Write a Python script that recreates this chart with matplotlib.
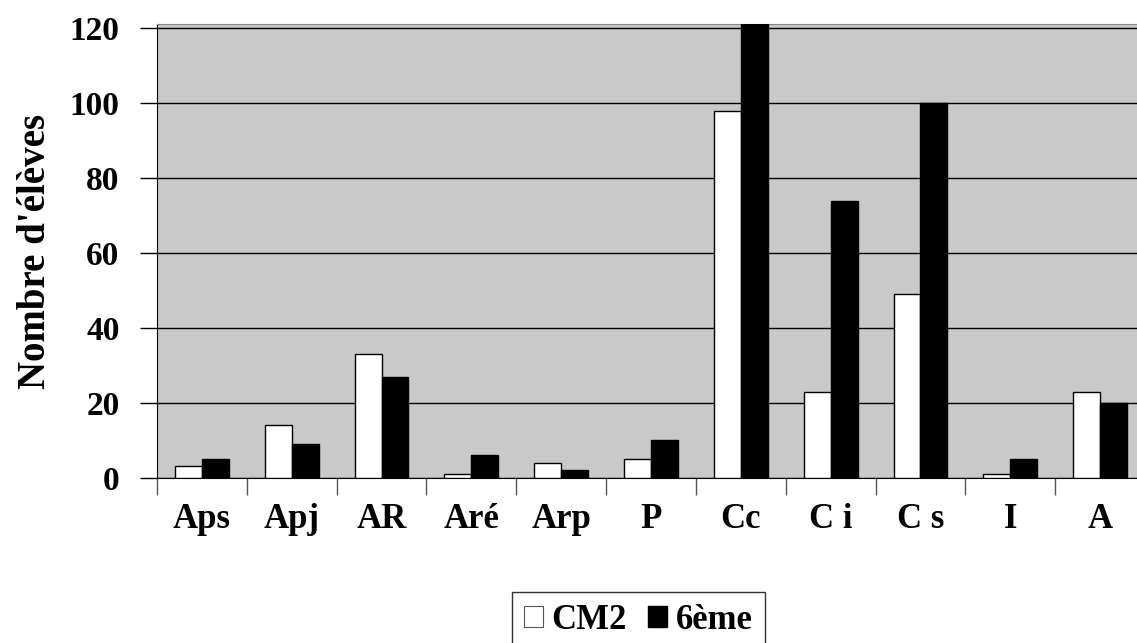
import numpy as np
import matplotlib.pyplot as plt
from matplotlib.patches import Patch

# categories and counts
categories = ["Aps", "Apj", "AR", "Aré", "Arp", "P", "Cc", "C i", "C s", "I", "A"]
cm2 = [3, 14, 33, 1, 4, 5, 98, 23, 49, 1, 23]
sixieme = [5, 9, 27, 6, 2, 10, 125, 74, 100, 5, 20]
yticks = [0, 20, 40, 60, 80, 100, 120]

plt.rcParams['font.family'] = ['Liberation Serif', 'DejaVu Serif']
plt.rcParams['font.weight'] = 'bold'

fig = plt.figure(figsize=(11.37, 6.43), dpi=100)
W, H = 1137, 643
left, right, top, bottom = 157, 1145, 24.3, 477.7
ax = fig.add_axes([left / W, 1 - bottom / H, (right - left) / W, (bottom - top) / H])

x = np.arange(len(categories))
w = 0.3
ax.set_facecolor('#c9c9c9')
ax.bar(x - w / 2, cm2, w, color='white', edgecolor='black', linewidth=1, zorder=3)
ax.bar(x + w / 2, sixieme, w, color='black', edgecolor='black', linewidth=1, zorder=3)

ax.set_xlim(-0.5, len(categories) - 0.5)
ax.set_ylim(0, 121.1)
ax.set_yticks(yticks)
ax.yaxis.grid(True, color='black', linewidth=1)
ax.set_axisbelow(True)

# category boundary ticks, labels centred between them
ax.set_xticks(np.arange(len(categories) + 1) - 0.5)
ax.set_xticklabels([])
ax.set_xticks(x, minor=True)
ax.set_xticklabels(categories, minor=True, fontsize=25, fontweight='bold')
ax.tick_params(axis='x', which='minor', length=0, pad=18)
ax.tick_params(axis='x', which='major', length=12, width=1, color='#555555')
ax.tick_params(axis='y', length=12, width=1, labelsize=24, pad=15)
for lab in ax.get_yticklabels():
    lab.set_fontweight('bold')

for s in ['top', 'right']:
    ax.spines[s].set_color('#888888')
ax.spines['left'].set_color('black')
ax.spines['bottom'].set_color('black')

ax.set_ylabel("Nombre d'élèves", fontsize=28, fontweight='bold', labelpad=11)

handles = [Patch(facecolor='white', edgecolor='#555555', linewidth=0.8, label='CM2'),
           Patch(facecolor='black', edgecolor='black', label='6ème')]
leg = fig.legend(handles=handles, loc='upper left', bbox_to_anchor=(511.7 / W, 1 - 591.7 / H),
                 ncol=2, frameon=True, fancybox=False, edgecolor='black',
                 prop={'size': 25, 'weight': 'bold'}, handlelength=0.55, handleheight=0.55,
                 handletextpad=0.25, columnspacing=0.6, borderpad=0.35, borderaxespad=0)
leg.get_frame().set_linewidth(1)

fig.savefig('out.png', dpi=100)
